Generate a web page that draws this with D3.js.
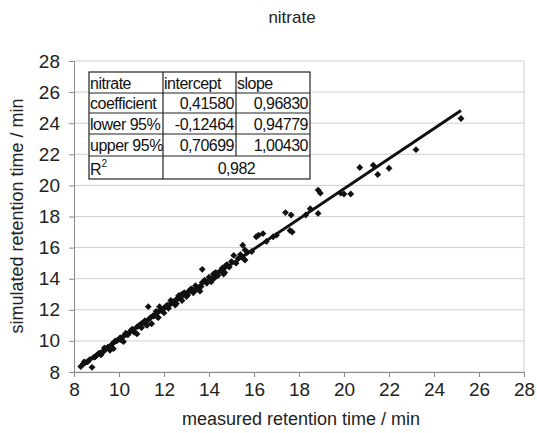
<!DOCTYPE html>
<html><head><meta charset="utf-8">
<script src="https://cdn.jsdelivr.net/npm/d3@7"></script>
<style>body{margin:0;background:#fff}svg{display:block;font-family:"Liberation Sans",Arial,sans-serif}</style>
</head><body>
<svg id="c" width="537" height="433"></svg>
<script>
const title = "nitrate";
const xLabel = "measured retention time / min";
const yLabel = "simulated retention time / min";
const xTicks = [8,10,12,14,16,18,20,22,24,26,28];
const yTicks = [8,10,12,14,16,18,20,22,24,26,28];
const measured = [8.3,8.4,8.5,8.6,8.8,8.7,8.9,9.0,9.1,9.2,9.3,9.4,9.5,9.6,9.7,9.75,9.8,9.9,10.0,10.1,10.2,10.2,10.3,10.4,10.5,10.6,10.7,10.8,10.8,10.9,11.0,11.0,11.1,11.2,11.3,11.3,11.4,11.45,11.5,11.6,11.7,11.8,11.8,11.9,12.0,12.0,12.1,12.2,12.3,12.3,12.4,12.5,12.6,12.7,12.8,12.8,12.9,13.0,13.1,13.2,13.3,13.4,13.5,13.6,13.7,13.7,13.8,13.9,14.0,14.1,14.2,14.3,14.4,14.5,14.6,14.7,14.8,14.9,15.0,15.1,15.2,15.3,15.4,15.5,15.5,15.6,15.6,15.7,15.9,16.1,16.2,16.4,16.55,16.85,17.0,17.4,17.6,17.65,17.7,18.3,18.5,18.85,18.85,18.95,19.85,20.0,20.3,20.7,21.3,21.5,22.0,23.2,25.2,
  8.45,8.95,9.15,9.35,9.55,9.85,10.05,10.35,10.55,10.65,10.95,11.15,11.25,11.55,11.65,11.75,12.15,12.45,12.55,12.65,12.95,13.05,13.25,13.45,13.65,14.15,14.25,14.65,14.75];
const simulated = [8.35,8.5,8.6,8.65,8.3,8.8,8.95,9.05,9.2,9.1,9.3,9.45,9.6,9.4,9.8,9.5,9.95,10.0,10.1,10.05,10.3,9.95,10.5,10.4,10.6,10.75,10.55,10.9,10.45,11.0,11.1,10.85,11.2,11.05,12.2,11.35,11.5,11.1,11.6,11.7,11.55,11.95,12.2,12.0,12.1,11.8,12.25,12.1,12.4,12.6,12.5,12.3,12.75,12.9,12.6,13.0,13.1,12.85,13.2,13.35,13.1,13.55,13.4,13.2,13.75,14.6,13.9,13.7,14.1,13.8,14.3,14.4,14.2,14.5,14.7,14.4,14.9,14.75,15.1,15.5,15.0,15.3,15.55,15.35,16.15,15.85,15.2,15.7,15.75,16.7,16.8,16.9,16.4,16.7,16.8,18.25,17.1,18.1,17.0,18.1,18.5,18.2,19.7,19.5,19.5,19.45,19.45,21.15,21.3,20.7,21.1,22.3,24.3,
  8.65,9.0,9.2,9.55,9.6,10.0,10.2,10.4,10.7,10.6,11.05,11.3,11.0,11.6,11.9,11.5,12.3,12.55,12.4,12.9,13.0,12.95,13.3,13.3,13.5,14.0,14.05,14.3,14.85];
const fitRange = [8.3, 25.2];
const intercept = 0.41580, slope = 0.96830;
const tableRows = [
  ["nitrate","intercept","slope"],
  ["coefficient","0,41580","0,96830"],
  ["lower 95%","-0,12464","0,94779"],
  ["upper 95%","0,70699","1,00430"]
];
const r2 = "0,982";

const svg = d3.select("#c");
const L=74,R=524,T=61,B=372;
const x = d3.scaleLinear().domain([8,28]).range([L,R]);
const y = d3.scaleLinear().domain([8,28]).range([B,T]);

svg.append("g").selectAll("line").data(yTicks).join("line")
  .attr("x1",L).attr("x2",R).attr("y1",d=>y(d)).attr("y2",d=>y(d))
  .attr("stroke","#cfcfcf").attr("stroke-width",1);
svg.append("line").attr("x1",R).attr("x2",R).attr("y1",T).attr("y2",B).attr("stroke","#cfcfcf");

const ax = svg.append("g").attr("transform",`translate(0,${B})`)
  .call(d3.axisBottom(x).tickValues(xTicks).tickSize(5).tickPadding(6).tickFormat(d3.format("d")));
const ay = svg.append("g").attr("transform",`translate(${L},0)`)
  .call(d3.axisLeft(y).tickValues(yTicks).tickSize(5).tickPadding(9).tickFormat(d3.format("d")));
[ax,ay].forEach(a=>{
  a.select(".domain").attr("stroke","#8a8a8a");
  a.selectAll(".tick line").attr("stroke","#8a8a8a");
  a.selectAll("text").attr("font-size",19).attr("fill","#222").attr("font-family","Liberation Sans, Arial, sans-serif");
});

svg.append("g").selectAll("path").data(measured.map((m,i)=>[m,simulated[i]])).join("path")
  .attr("d",d3.symbol(d3.symbolDiamond2,30))
  .attr("transform",d=>`translate(${x(d[0])},${y(d[1])})`)
  .attr("fill","#111");

svg.append("line")
  .attr("x1",x(fitRange[0])).attr("y1",y(intercept+slope*fitRange[0]))
  .attr("x2",x(fitRange[1])).attr("y2",y(intercept+slope*fitRange[1]))
  .attr("stroke","#111").attr("stroke-width",3);

const tx=[89,163,236,310], ty=[72,93,113,134,156,179];
const tg = svg.append("g").attr("font-size",16).attr("fill","#111");
tg.append("rect").attr("x",tx[0]).attr("y",ty[0]).attr("width",tx[3]-tx[0]).attr("height",ty[5]-ty[0]).attr("fill","#fff");
tableRows.forEach((row,ri)=>{
  row.forEach((cell,ci)=>{
    const isNum = ri>0 && ci>0;
    tg.append("text")
      .attr("x", isNum ? tx[ci+1]-2 : tx[ci]+1)
      .attr("y", (ty[ri]+ty[ri+1])/2+6)
      .attr("text-anchor", isNum?"end":"start")
      .attr("letter-spacing", -0.5)
      .text(cell);
  });
});
const rt = tg.append("text").attr("x",tx[0]+1).attr("y",(ty[4]+ty[5])/2+7);
rt.append("tspan").text("R");
rt.append("tspan").attr("dy",-8).attr("font-size",10).text("2");
tg.append("text").attr("x",(tx[1]+tx[3])/2).attr("y",(ty[4]+ty[5])/2+6).attr("text-anchor","middle").attr("letter-spacing",-0.5).text(r2);
const tl = svg.append("g").attr("stroke","#222").attr("stroke-width",1.2).attr("fill","none");
tl.append("rect").attr("x",tx[0]).attr("y",ty[0]).attr("width",tx[3]-tx[0]).attr("height",ty[5]-ty[0]);
ty.slice(1,5).forEach(v=>tl.append("line").attr("x1",tx[0]).attr("x2",tx[3]).attr("y1",v).attr("y2",v));
tl.append("line").attr("x1",tx[1]).attr("x2",tx[1]).attr("y1",ty[0]).attr("y2",ty[5]);
tl.append("line").attr("x1",tx[2]).attr("x2",tx[2]).attr("y1",ty[0]).attr("y2",ty[4]);

svg.append("text").attr("x",292).attr("y",23).attr("text-anchor","middle").attr("font-size",17).attr("fill","#222").text(title);
svg.append("text").attr("x",301).attr("y",425).attr("text-anchor","middle").attr("font-size",18).attr("fill","#222").text(xLabel);
svg.append("text").attr("transform","translate(23,216) rotate(-90)").attr("text-anchor","middle").attr("font-size",18).attr("fill","#222").text(yLabel);
</script>
</body></html>
